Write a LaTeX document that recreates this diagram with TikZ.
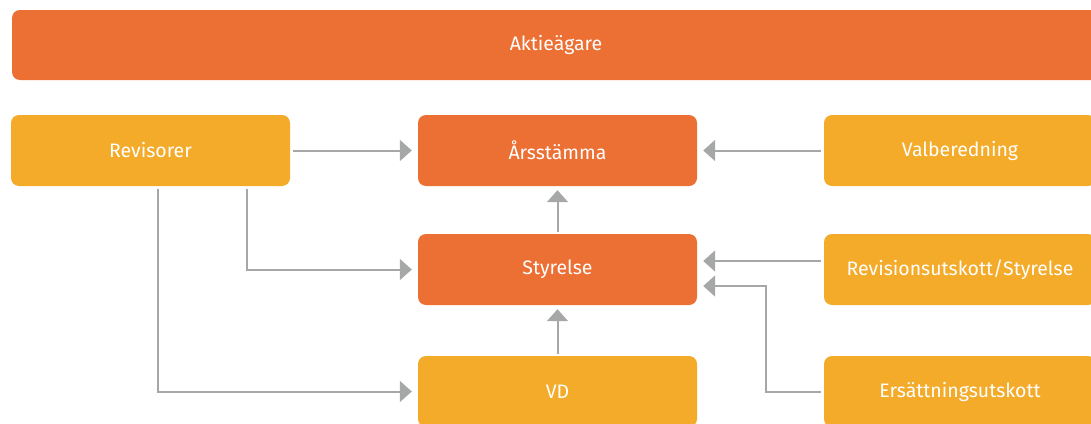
\documentclass[tikz,border=0pt]{standalone}
\usepackage{fontspec}
\setmainfont{Fira Sans}
\usetikzlibrary{arrows.meta}
\definecolor{orng}{HTML}{EC6F33}
\definecolor{yelw}{HTML}{F3AB29}
\definecolor{arrg}{HTML}{A6A8A8}
\begin{document}
\begin{tikzpicture}[x=1pt,y=-1pt,
  box/.style={rounded corners=8pt, text=white, font=\fontsize{19.5}{21}\selectfont, minimum height=71pt, inner sep=0pt},
  obox/.style={box, fill=orng},
  ybox/.style={box, fill=yelw},
  arr/.style={draw=arrg, line width=2pt, -{Triangle[length=12pt,width=21pt]}, shorten >=6pt, shorten <=3pt}
]
\useasboundingbox (0,0) rectangle (1091,423);
\clip (0,0) rectangle (1091,423);
\node[obox, minimum width=1088pt, minimum height=70pt] (akt) at (556,45) {Aktieägare};
\node[ybox, minimum width=279pt] (rev) at (150.5,150.5) {Revisorer};
\node[obox, minimum width=279pt] (ars) at (557.5,150.5) {Årsstämma};
\node[ybox, minimum width=272pt] (val) at (960,150.5) {Valberedning};
\node[obox, minimum width=279pt] (sty) at (557.5,269.5) {Styrelse};
\node[ybox, minimum width=272pt] (rus) at (960,269.5) {Revisionsutskott/Styrelse};
\node[ybox, minimum width=279pt] (vd) at (557.5,391.5) {VD};
\node[ybox, minimum width=272pt] (ers) at (960,391.5) {Ersättningsutskott};

\draw[arr] (rev.east) -- (ars.west);
\draw[arr] ([xshift=96.5pt]rev.south) |- (sty.west);
\draw[arr] ([xshift=7.5pt]rev.south) |- (vd.west);
\draw[arr, shorten >=4pt, shorten <=2pt] (sty.north) -- (ars.south);
\draw[arr, shorten >=4pt, shorten <=2pt] (vd.north) -- (sty.south);
\draw[arr] (val.west) -- (ars.east);
\draw[arr] ([yshift=8.5pt]rus.west) -- ([yshift=8.5pt]sty.east);
\draw[arr] (ers.west) -- ++(-58,0) |- ([yshift=-16.5pt]sty.east);
\end{tikzpicture}
\end{document}
